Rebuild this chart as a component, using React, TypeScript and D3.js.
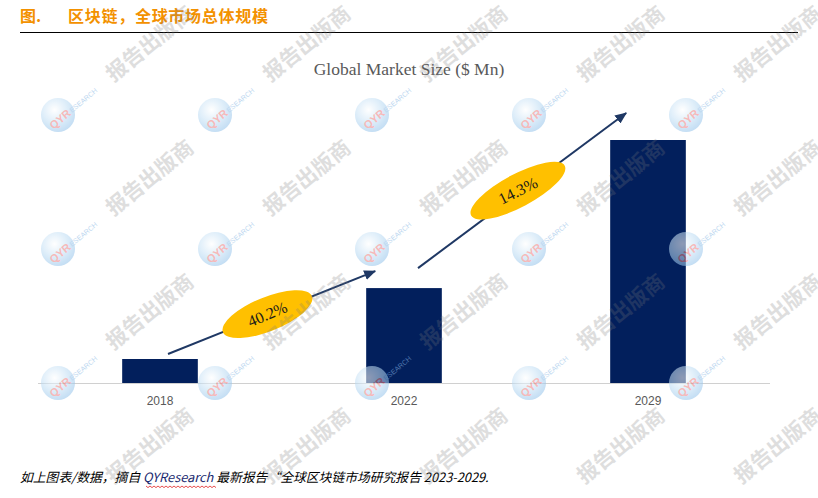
import React from "react";
import * as d3 from "d3";

const years = ["2018", "2022", "2029"];
const marketSize = [1530, 6050, 15490];
const cagrLabels = ["40.2%", "14.3%"];
const headerTitle = "图.";
const headerText = "区块链，全球市场总体规模";
const chartTitle = "Global Market Size ($ Mn)";
const footerA = "如上图表/数据，摘自 ";
const footerB = "QYResearch";
const footerC = " 最新报告“全球区块链市场研究报告 2023-2029.";
const watermarkText = "报告出版商";

const W = 818;
const H = 498;
const NAVY = "#021f5c";
const ARROW = "#1f3864";
const GOLD = "#ffc000";

export default function App() {
  const x = d3
    .scaleBand<string>()
    .domain(years)
    .range([38, 770])
    .paddingInner(0.69)
    .paddingOuter(0.345);
  const y = d3.scaleLinear().domain([0, d3.max(marketSize) as number]).range([383, 140]);
  const bw = x.bandwidth();

  // growth arrows derived from bar geometry
  const arrows = [
    {
      x1: (x(years[0]) as number) + bw / 2 + 8,
      y1: y(marketSize[0]) - 5,
      x2: (x(years[1]) as number) + 9,
      y2: y(marketSize[1]) - 17,
      rx: 48,
      ry: 17,
      rot: -22,
      trot: -23,
      dy: 0,
    },
    {
      x1: (x(years[1]) as number) + bw / 2 + 14,
      y1: y(marketSize[1]) - 20,
      x2: (x(years[2]) as number) + 16,
      y2: y(marketSize[2]) - 27,
      rx: 53,
      ry: 16.5,
      rot: -28,
      trot: -26,
      dy: -3,
    },
  ];

  const wmCols = d3.range(5).map((i) => 150 + 157 * i);
  const wmRows = d3.range(4).map((j) => 44 + 134 * j);
  const logoCols = d3.range(5).map((i) => 58 + 157 * i);
  const logoRows = d3.range(3).map((j) => 115 + 134 * j);

  const wave = d3.range(0, 36).map((i) => [146 + i * 2, 486 + (i % 2 === 0 ? 0 : 1.6)] as [number, number]);

  return (
    <svg
      width={W}
      height={H}
      style={{ position: "absolute", left: 0, top: 0, background: "#fff" }}
      xmlns="http://www.w3.org/2000/svg"
    >
      <defs>
        <marker
          id="ah"
          markerUnits="userSpaceOnUse"
          markerWidth={12}
          markerHeight={10}
          viewBox="0 0 12 10"
          refX={11}
          refY={5}
          orient="auto"
        >
          <path d="M0,0 L12,5 L0,10 Z" fill={ARROW} />
        </marker>
        <radialGradient id="globe" cx="40%" cy="35%" r="70%">
          <stop offset="0%" stopColor="#ffffff" />
          <stop offset="60%" stopColor="#bcdcf4" />
          <stop offset="100%" stopColor="#8fc0ea" />
        </radialGradient>
      </defs>
      <rect x={0} y={0} width={W} height={H} fill="#fff" />

      {/* header */}
      <text
        x={20}
        y={22}
        fontFamily="'Noto Sans CJK SC', sans-serif"
        fontWeight={700}
        fontSize={16}
        fill="#f39100"
      >
        {headerTitle}
      </text>
      <text
        x={68}
        y={22}
        fontFamily="'Noto Sans CJK SC', sans-serif"
        fontWeight={700}
        fontSize={16}
        fill="#f39100"
        textLength={200}
      >
        {headerText}
      </text>
      <line x1={20} x2={798} y1={32.5} y2={32.5} stroke="#000" strokeWidth={1.2} />

      {/* chart title */}
      <text
        x={409}
        y={75}
        textAnchor="middle"
        fontFamily="'Liberation Serif', 'DejaVu Serif', serif"
        fontSize={17.5}
        fill="#595959"
      >
        {chartTitle}
      </text>

      {/* bars */}
      {years.map((yr, i) => (
        <rect
          key={yr}
          x={x(yr) as number}
          y={y(marketSize[i])}
          width={bw}
          height={y(0) - y(marketSize[i])}
          fill={NAVY}
        />
      ))}

      {/* axis */}
      <line x1={38} x2={770} y1={y(0) + 0.5} y2={y(0) + 0.5} stroke="#d0d0d0" strokeWidth={1} />
      {years.map((yr) => (
        <text
          key={yr}
          x={(x(yr) as number) + bw / 2}
          y={405}
          textAnchor="middle"
          fontFamily="'Liberation Sans', Arial, sans-serif"
          fontSize={12}
          fill="#595959"
        >
          {yr}
        </text>
      ))}

      {/* arrows with CAGR ellipses */}
      {arrows.map((a, i) => {
        const t = 0.48;
        const cx = a.x1 + (a.x2 - a.x1) * t;
        const cy = a.y1 + (a.y2 - a.y1) * t + a.dy;
        return (
          <g key={i}>
            <line
              x1={a.x1}
              y1={a.y1}
              x2={a.x2}
              y2={a.y2}
              stroke={ARROW}
              strokeWidth={2}
              markerEnd="url(#ah)"
            />
            <ellipse
              cx={cx}
              cy={cy}
              rx={a.rx}
              ry={a.ry}
              fill={GOLD}
              transform={`rotate(${a.rot} ${cx} ${cy})`}
            />
            <text
              x={cx}
              y={cy + 5.5}
              textAnchor="middle"
              fontFamily="'Liberation Serif', serif"
              fontSize={16}
              fill="#1a1a1a"
              transform={`rotate(${a.trot} ${cx} ${cy})`}
            >
              {cagrLabels[i]}
            </text>
          </g>
        );
      })}

      {/* footer */}
      <text
        x={20}
        y={482}
        fontFamily="'Noto Sans CJK SC', sans-serif"
        fontSize={12.8}
        fontStyle="italic"
        fill="#000"
      >
        <tspan>{footerA}</tspan>
        <tspan fill="#1a2a70">{footerB}</tspan>
        <tspan>{footerC}</tspan>
      </text>
      <path d={d3.line()(wave) as string} fill="none" stroke="#e02020" strokeWidth={0.8} />

      {/* watermarks */}
      <g pointerEvents="none">
        {logoRows.map((ly) =>
          logoCols.map((lx) => (
            <g key={`l${lx}-${ly}`} opacity={0.55}>
              <circle cx={lx} cy={ly} r={17} fill="url(#globe)" />
              <text
                x={lx + 2}
                y={ly + 8}
                textAnchor="middle"
                fontFamily="'Liberation Sans', sans-serif"
                fontWeight={700}
                fontSize={11}
                fill="#f08080"
                transform={`rotate(-40 ${lx + 2} ${ly + 4})`}
              >
                QYR
              </text>
              <text
                x={lx + 14}
                y={ly - 2}
                fontFamily="'Liberation Sans', sans-serif"
                fontSize={7}
                fill="#8ab8e6"
                transform={`rotate(-40 ${lx + 14} ${ly - 2})`}
              >
                ESEARCH
              </text>
            </g>
          ))
        )}
        {wmRows.map((wy) =>
          wmCols.map((wx) => (
            <text
              key={`t${wx}-${wy}`}
              x={wx}
              y={wy + 7}
              textAnchor="middle"
              fontFamily="'Noto Sans CJK SC', sans-serif"
              fontWeight={700}
              fontSize={21}
              fill="#7a7a7a"
              opacity={0.24}
              transform={`rotate(-39 ${wx} ${wy})`}
            >
              {watermarkText}
            </text>
          ))
        )}
      </g>
    </svg>
  );
}
